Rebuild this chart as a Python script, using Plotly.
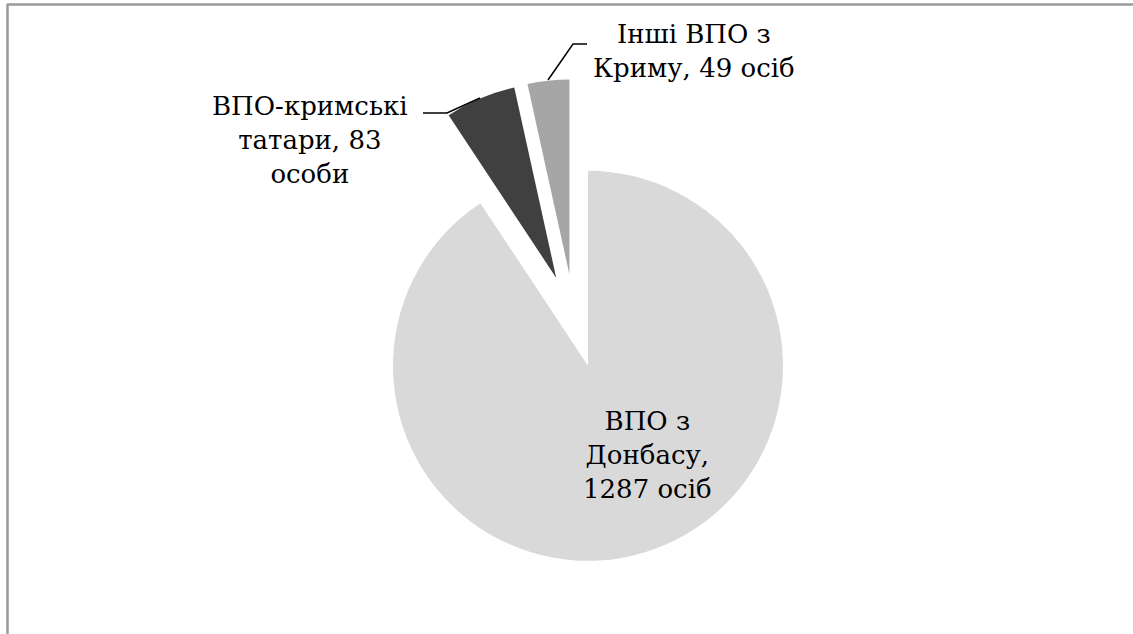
import plotly.graph_objects as go

categories = ["ВПО з Донбасу", "ВПО-кримські татари", "Інші ВПО з Криму"]
values = [1287, 83, 49]
label_texts = ["ВПО з<br>Донбасу,<br>1287 осіб", "ВПО-кримські<br>татари, 83<br>особи", "Інші ВПО з<br>Криму, 49 осіб"]
colors = ["#d9d9d9", "#404040", "#a6a6a6"]

W, H = 1133, 634
def px(x): return x / W
def py(y): return 1 - y / H

cx, cy, half = 574.5, 321, 241.8

fig = go.Figure(go.Pie(
    labels=categories, values=values, sort=False, direction="clockwise", rotation=0,
    marker=dict(colors=colors, line=dict(width=0)),
    pull=[0.24, 0.24, 0.24], textinfo="none", hoverinfo="skip", showlegend=False,
    domain=dict(x=[px(cx - half), px(cx + half)], y=[py(cy + half), py(cy - half)]),
))

FAM = "DejaVu Serif"
font = dict(family=FAM, size=26, color="#000000")
ann_pos = [(647, 455), (310, 140), (694, 51)]
for t, (x, y) in zip(label_texts, ann_pos):
    fig.add_annotation(x=px(x), y=py(y), xref="paper", yref="paper", text=t, showarrow=False,
                       font=font, align="center", xanchor="center", yanchor="middle")

shapes = [
    dict(type="line", xref="paper", yref="paper", x0=px(7), x1=1, y0=py(4.5), y1=py(4.5), line=dict(color="#9a9a9a", width=2.5)),
    dict(type="line", xref="paper", yref="paper", x0=px(7.5), x1=px(7.5), y0=py(4), y1=0, line=dict(color="#9a9a9a", width=2.5)),
    dict(type="path", xref="paper", yref="paper",
         path=f"M {px(423)},{py(113)} L {px(447)},{py(113)} L {px(480)},{py(98)}", line=dict(color="#000", width=1.5)),
    dict(type="path", xref="paper", yref="paper",
         path=f"M {px(587)},{py(44)} L {px(573)},{py(44)} L {px(548)},{py(80)}", line=dict(color="#000", width=1.5)),
]
fig.update_layout(width=W, height=H, margin=dict(l=0, r=0, t=0, b=0),
                  paper_bgcolor="white", plot_bgcolor="white", shapes=shapes,
                  font=dict(family=FAM))
fig.write_html("out.html", config={"displayModeBar": False},
               post_script="document.body.style.margin='0';document.body.style.overflow='hidden';")
